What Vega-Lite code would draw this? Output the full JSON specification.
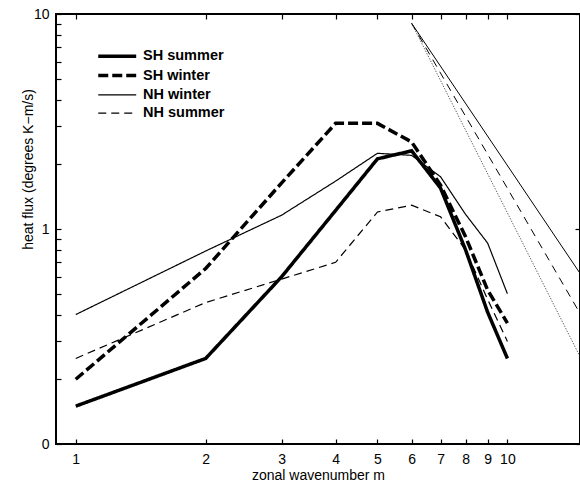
{
  "$schema": "https://vega.github.io/schema/vega-lite/v6.json",
  "width": 524,
  "height": 430,
  "autosize": {"type": "none"},
  "padding": {"left": 56, "top": 14, "right": 0, "bottom": 43},
  "background": "white",
  "config": {
    "view": {"stroke": "black", "strokeWidth": 2},
    "font": "Liberation Sans",
    "axis": {
      "domain": false, "grid": false, "tickColor": "black", "labelColor": "black", "titleColor": "black",
      "labelFont": "Liberation Sans", "titleFont": "Liberation Sans", "labelFontSize": 14, "titleFontSize": 14,
      "titleFontWeight": "normal", "tickSize": -5, "tickWidth": 1.2
    }
  },
  "datasets": {
    "series": [
      {"series": "SH summer", "m": 1, "flux": 0.15},
      {"series": "SH summer", "m": 2, "flux": 0.25},
      {"series": "SH summer", "m": 3, "flux": 0.60},
      {"series": "SH summer", "m": 4, "flux": 1.22},
      {"series": "SH summer", "m": 5, "flux": 2.12},
      {"series": "SH summer", "m": 6, "flux": 2.31},
      {"series": "SH summer", "m": 7, "flux": 1.55},
      {"series": "SH summer", "m": 8, "flux": 0.80},
      {"series": "SH summer", "m": 9, "flux": 0.41},
      {"series": "SH summer", "m": 10, "flux": 0.25},
      {"series": "SH winter", "m": 1, "flux": 0.20},
      {"series": "SH winter", "m": 2, "flux": 0.655},
      {"series": "SH winter", "m": 3, "flux": 1.64},
      {"series": "SH winter", "m": 4, "flux": 3.10},
      {"series": "SH winter", "m": 5, "flux": 3.10},
      {"series": "SH winter", "m": 6, "flux": 2.54},
      {"series": "SH winter", "m": 7, "flux": 1.60},
      {"series": "SH winter", "m": 8, "flux": 0.92},
      {"series": "SH winter", "m": 9, "flux": 0.52},
      {"series": "SH winter", "m": 10, "flux": 0.365},
      {"series": "NH winter", "m": 1, "flux": 0.40},
      {"series": "NH winter", "m": 2, "flux": 0.79},
      {"series": "NH winter", "m": 3, "flux": 1.16},
      {"series": "NH winter", "m": 4, "flux": 1.67},
      {"series": "NH winter", "m": 5, "flux": 2.25},
      {"series": "NH winter", "m": 6, "flux": 2.20},
      {"series": "NH winter", "m": 7, "flux": 1.75},
      {"series": "NH winter", "m": 8, "flux": 1.17},
      {"series": "NH winter", "m": 9, "flux": 0.86},
      {"series": "NH winter", "m": 10, "flux": 0.50},
      {"series": "NH summer", "m": 1, "flux": 0.25},
      {"series": "NH summer", "m": 2, "flux": 0.455},
      {"series": "NH summer", "m": 3, "flux": 0.585},
      {"series": "NH summer", "m": 4, "flux": 0.70},
      {"series": "NH summer", "m": 5, "flux": 1.20},
      {"series": "NH summer", "m": 6, "flux": 1.29},
      {"series": "NH summer", "m": 7, "flux": 1.14},
      {"series": "NH summer", "m": 8, "flux": 0.80},
      {"series": "NH summer", "m": 9, "flux": 0.47},
      {"series": "NH summer", "m": 10, "flux": 0.30}
    ],
    "refs": [
      {"ref": "slope3", "m": 6, "flux": 9.05},
      {"ref": "slope3", "m": 14.73, "flux": 0.622},
      {"ref": "slope35", "m": 6, "flux": 9.05},
      {"ref": "slope35", "m": 14.73, "flux": 0.405},
      {"ref": "slope4", "m": 6, "flux": 9.05},
      {"ref": "slope4", "m": 14.73, "flux": 0.255}
    ]
  },
  "layer": [
    {
      "data": {"name": "series"},
      "mark": {"type": "line", "color": "black", "clip": true, "strokeCap": "butt", "strokeJoin": "miter"},
      "encoding": {
        "x": {
          "field": "m", "type": "quantitative",
          "scale": {"type": "log", "domain": [0.9, 14.73], "nice": false},
          "axis": {
            "orient": "bottom", "values": [1, 2, 3, 4, 5, 6, 7, 8, 9, 10], "format": "d",
            "title": "zonal wavenumber m", "labelPadding": 20, "labelBaseline": "middle",
            "labelFlush": false, "titleY": 31, "titleBaseline": "middle"
          }
        },
        "y": {
          "field": "flux", "type": "quantitative",
          "scale": {"type": "log", "domain": [0.1, 10], "nice": false},
          "axis": {
            "orient": "left",
            "values": [0.1, 0.2, 0.3, 0.4, 0.5, 0.6, 0.7, 0.8, 0.9, 1, 2, 3, 4, 5, 6, 7, 8, 9, 10],
            "labelExpr": "datum.value == 10 ? '10' : (datum.value == 1 ? '1' : (datum.value < 0.11 ? '0' : ''))",
            "labelPadding": 12, "labelFlush": false, "labelBaseline": "middle",
            "title": "heat flux (degrees K\u2212m/s)", "titleX": -28, "titleY": 155, "titleBaseline": "middle", "titleAlign": "center"
          }
        },
        "strokeWidth": {
          "field": "series", "type": "ordinal",
          "scale": {"type": "ordinal", "domain": ["SH summer", "SH winter", "NH winter", "NH summer"], "range": [3.5, 3.5, 1.2, 1.2]},
          "legend": {
            "orient": "none", "legendX": 35, "legendY": 35, "title": null, "symbolType": "M0,0H8", "symbolSize": 90,
            "symbolStrokeColor": "black", "symbolFillColor": "transparent", "labelFontSize": 14.5, "labelFontWeight": "bold", "labelFont": "Liberation Sans",
            "labelOffset": 37.5, "rowPadding": 3.3, "padding": 0, "labelColor": "black"
          }
        },
        "strokeDash": {
          "field": "series", "type": "ordinal",
          "scale": {"type": "ordinal", "domain": ["SH summer", "SH winter", "NH winter", "NH summer"], "range": [[1, 0], [10, 4], [1, 0], [8, 5]]},
          "legend": {
            "orient": "none", "legendX": 35, "legendY": 35, "title": null, "symbolType": "M0,0H8", "symbolSize": 90,
            "symbolStrokeColor": "black", "symbolFillColor": "transparent", "labelFontSize": 14.5, "labelFontWeight": "bold", "labelFont": "Liberation Sans",
            "labelOffset": 37.5, "rowPadding": 3.3, "padding": 0, "labelColor": "black"
          }
        }
      }
    },
    {
      "data": {"name": "refs"},
      "transform": [{"filter": "datum.ref == 'slope3'"}],
      "mark": {"type": "line", "color": "black", "strokeWidth": 1, "clip": true},
      "encoding": {
        "x": {"field": "m", "type": "quantitative", "axis": {"orient": "top", "values": [1, 2, 3, 4, 5, 6, 7, 8, 9, 10], "labels": false, "title": null}},
        "y": {"field": "flux", "type": "quantitative", "axis": {"orient": "right", "values": [0.1, 1, 10], "labels": false, "title": null}}
      }
    },
    {
      "data": {"name": "refs"},
      "transform": [{"filter": "datum.ref == 'slope35'"}],
      "mark": {"type": "line", "color": "black", "strokeWidth": 1, "strokeDash": [8, 6], "clip": true},
      "encoding": {
        "x": {"field": "m", "type": "quantitative", "axis": null},
        "y": {"field": "flux", "type": "quantitative", "axis": null}
      }
    },
    {
      "data": {"name": "refs"},
      "transform": [{"filter": "datum.ref == 'slope4'"}],
      "mark": {"type": "line", "color": "#333333", "strokeWidth": 0.9, "strokeDash": [1.2, 1.6], "clip": true},
      "encoding": {
        "x": {"field": "m", "type": "quantitative", "axis": null},
        "y": {"field": "flux", "type": "quantitative", "axis": null}
      }
    }
  ],
  "resolve": {"axis": {"x": "independent", "y": "independent"}}
}
